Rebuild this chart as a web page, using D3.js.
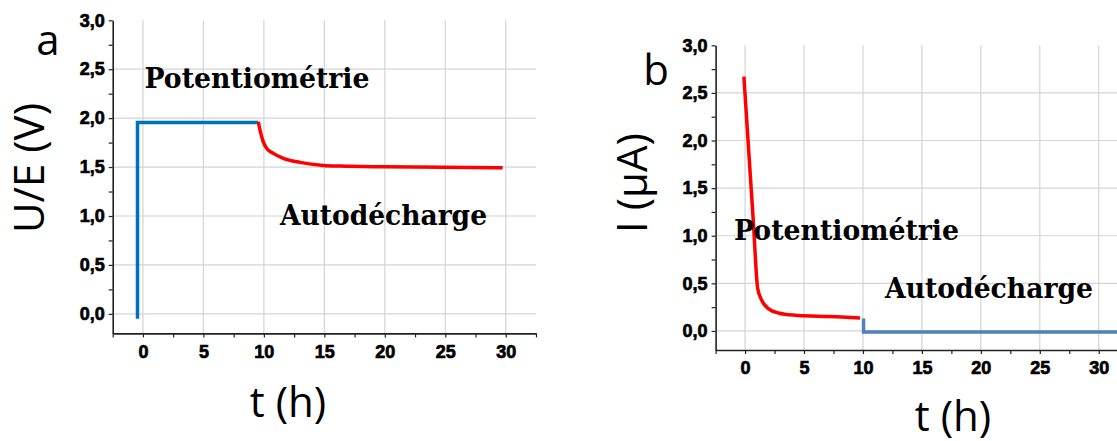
<!DOCTYPE html>
<html>
<head>
<meta charset="utf-8">
<script src="https://cdn.jsdelivr.net/npm/d3@7"></script>
<style>
  html, body { margin: 0; padding: 0; background: #fff; }
  svg { display: block; }
</style>
</head>
<body>
<svg id="chart" width="1117" height="441"></svg>
<script>
// ---------- data ----------
const xTicks = [0, 5, 10, 15, 20, 25, 30];
const xTickLabels = ["0", "5", "10", "15", "20", "25", "30"];
const yTicks = [0, 0.5, 1.0, 1.5, 2.0, 2.5, 3.0];
const yTickLabels = ["0,0", "0,5", "1,0", "1,5", "2,0", "2,5", "3,0"];

// panel a : potential
const aBlueT = [-0.45, -0.45, 9.54];
const aBlueU = [-0.05, 1.956, 1.956];
const aRedT = [9.54, 9.68, 9.95, 10.23, 10.78, 11.61, 12.99, 14.93, 16.31, 20, 25, 29.74];
const aRedU = [1.962, 1.878, 1.758, 1.691, 1.640, 1.589, 1.548, 1.517, 1.510, 1.503, 1.497, 1.493];

// panel b : current
const bRedT = [-0.1, 0.3, 0.7, 1.07, 1.41, 1.97, 2.82, 4.24, 6.21, 8.2, 9.75];
const bRedI = [2.67, 1.91, 1.15, 0.446, 0.323, 0.235, 0.189, 0.165, 0.155, 0.147, 0.137];
const bBlueT = [10.05, 10.05, 34];
const bBlueI = [0.13, -0.012, -0.012];

const panels = [
  { letter: "a", yTitle: "U/E (V)", xTitle: "t (h)",
    xr: [112.7, 536], yr: [333.4, 20.3],
    blue: { t: aBlueT, v: aBlueU, color: "#0070C0" },
    red: { t: aRedT, v: aRedU },
    letterPos: [48, 55], yTitlePos: [44, 168], xTitlePos: [288, 417],
    pot: { x: 144.5, y: 88, w: 225 }, auto: { x: 280, y: 225, w: 207 } },
  { letter: "b", yTitle: "I (\u00B5A)", xTitle: "t (h)",
    xr: [715.6, 1128.2], yr: [350, 45.3],
    blue: { t: bBlueT, v: bBlueI, color: "#4F81BD" },
    red: { t: bRedT, v: bRedI },
    letterPos: [656, 85], yTitlePos: [647, 183], xTitlePos: [953, 431],
    pot: { x: 734, y: 240, w: 225 }, auto: { x: 885, y: 298, w: 208 } }
];

const svg = d3.select("#chart");

panels.forEach(p => {
  const x = d3.scaleLinear().domain([-2.5, 32.5]).range(p.xr);
  const y = d3.scaleLinear().domain([-0.2, 3.0]).range(p.yr);
  const g = svg.append("g");

  // grid
  const grid = g.append("g").attr("stroke", "#d4d4d4").attr("stroke-width", 1.2);
  xTicks.forEach(t => grid.append("line")
    .attr("x1", x(t)).attr("x2", x(t)).attr("y1", y(3.0)).attr("y2", y(-0.2)));
  yTicks.filter(v => v < 3).forEach(v => grid.append("line")
    .attr("x1", x(-2.5)).attr("x2", x(32.5)).attr("y1", y(v)).attr("y2", y(v)));

  // axes
  const xAll = d3.range(-2.5, 32.6, 2.5);
  const yAll = d3.range(0, 3.01, 0.25);
  const xAxis = d3.axisBottom(x).tickValues(xAll).tickSizeInner(4).tickSizeOuter(0)
    .tickPadding(5)
    .tickFormat(d => { const i = xTicks.indexOf(d); return i >= 0 ? xTickLabels[i] : ""; });
  const yAxis = d3.axisLeft(y).tickValues(yAll).tickSizeInner(4).tickSizeOuter(0)
    .tickPadding(4)
    .tickFormat(d => { const i = yTicks.findIndex(v => Math.abs(v - d) < 1e-6); return i >= 0 ? yTickLabels[i] : ""; });

  const gx = g.append("g").attr("transform", `translate(0,${y(-0.2)})`).call(xAxis);
  const gy = g.append("g").attr("transform", `translate(${x(-2.5)},0)`).call(yAxis);
  [gx, gy].forEach(ax => {
    ax.attr("font-family", "'Liberation Sans', Arial, sans-serif").attr("font-size", 18).attr("font-weight", 700);
    ax.select(".domain").attr("stroke", "#222").attr("stroke-width", 1.6);
    ax.selectAll(".tick line").attr("stroke", "#222").attr("stroke-width", 1.2);
    ax.selectAll(".tick text").attr("fill", "#000")
      .attr("stroke", "#000").attr("stroke-width", 0.7)
      .attr("font-weight", 700).attr("font-size", 18)
      .style("font-family", "'Liberation Sans', Arial, sans-serif")
      .style("font-weight", "700").style("font-size", "18px");
  });
  gx.selectAll(".tick text").attr("dy", "0.85em");

  // series
  const lineLin = d3.line().x(d => x(d[0])).y(d => y(d[1]));
  const lineCurve = d3.line().x(d => x(d[0])).y(d => y(d[1])).curve(d3.curveMonotoneX);
  g.append("path").datum(p.blue.t.map((t, i) => [t, p.blue.v[i]]))
    .attr("d", lineLin).attr("fill", "none").attr("stroke", p.blue.color)
    .attr("stroke-width", 3.5).attr("stroke-linejoin", "miter");
  g.append("path").datum(p.red.t.map((t, i) => [t, p.red.v[i]]))
    .attr("d", lineCurve).attr("fill", "none").attr("stroke", "#FF0000")
    .attr("stroke-width", 3.5).attr("stroke-linejoin", "round");

  // annotations
  const serif = "'DejaVu Serif', 'Liberation Serif', serif";
  [[p.pot, "Potentiom\u00E9trie"], [p.auto, "Autod\u00E9charge"]].forEach(([pos, txt]) => {
    g.append("text").attr("x", pos.x).attr("y", pos.y).text(txt)
      .attr("textLength", pos.w).attr("lengthAdjust", "spacingAndGlyphs")
      .style("font-family", serif).style("font-weight", "bold")
      .style("font-size", "27px").attr("fill", "#000");
  });

  const sans = "'Open Sans', 'Noto Sans', sans-serif";
  g.append("text").attr("x", p.letterPos[0]).attr("y", p.letterPos[1])
    .attr("text-anchor", "middle").text(p.letter)
    .style("font-family", sans).style("font-size", "42px").attr("fill", "#000");
  g.append("text").attr("transform", `translate(${p.yTitlePos[0]},${p.yTitlePos[1]}) rotate(-90)`)
    .attr("text-anchor", "middle").text(p.yTitle)
    .style("font-family", sans).style("font-size", "42px").attr("fill", "#000");
  g.append("text").attr("x", p.xTitlePos[0]).attr("y", p.xTitlePos[1])
    .attr("text-anchor", "middle").text(p.xTitle)
    .style("font-family", sans).style("font-size", "42px").attr("fill", "#000");
});
</script>
</body>
</html>
